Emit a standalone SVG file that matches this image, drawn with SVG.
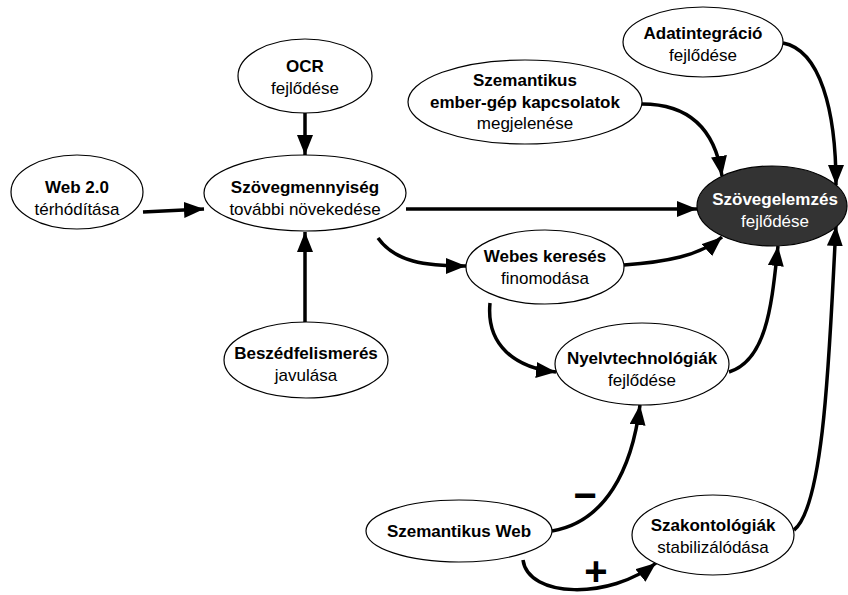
<svg xmlns="http://www.w3.org/2000/svg" width="848" height="595" viewBox="0 0 848 595">
<defs>
<marker id="ah" markerUnits="userSpaceOnUse" markerWidth="22" markerHeight="18" refX="20" refY="8" orient="auto">
<path d="M0,0 L20,8 L0,16 Z" fill="#000"/>
</marker>
<style>
.n{fill:#fff;stroke:#000;stroke-width:1.2}
.d{fill:#333;stroke:#000;stroke-width:1.2}
.e{fill:none;stroke:#000;stroke-width:3.5;marker-end:url(#ah)}
text{font-family:"Liberation Sans",Arial,sans-serif;font-size:17px;text-anchor:middle;fill:#000}
.b{font-weight:bold}
.w{fill:#fff}
.s{font-family:"Liberation Sans",Arial,sans-serif;font-weight:bold;font-size:40px}
</style>
</defs>
<rect width="848" height="595" fill="#fff"/>
<g id="connectors">
<path class="e" d="M305,113 L305,155"/>
<path class="e" d="M305,322 L305,232"/>
<path class="e" d="M143,212 C165,211 182,210 204,209"/>
<path class="e" d="M406,209 L697,209"/>
<path class="e" d="M378,238 C395,262 425,266 466,266"/>
<path class="e" d="M624,265 C665,262 700,256 722,237"/>
<path class="e" d="M490,303 C486,345 515,368 556,372"/>
<path class="e" d="M729,372 C768,360 772,300 778,246"/>
<path class="e" d="M642,104 C690,104 715,130 722,176"/>
<path class="e" d="M783,43 C820,50 836,110 836,185"/>
<path class="e" d="M794,530 C826,505 830,330 836,226"/>
<path class="e" d="M552,531 C605,522 632,470 640,405"/>
<path class="e" d="M523,560 C528,598 610,600 656,563"/>
</g>
<g id="n-ocr"><ellipse class="n" cx="305" cy="76" rx="67" ry="37"/><text class="b" x="305" y="72">OCR</text><text x="305" y="94">fejlődése</text></g>
<g id="n-web20"><ellipse class="n" cx="77" cy="192" rx="66" ry="37"/><text class="b" x="77" y="193">Web 2.0</text><text x="77" y="215">térhódítása</text></g>
<g id="n-szovegmenny"><ellipse class="n" cx="305" cy="193" rx="101" ry="38"/><text class="b" x="305" y="193">Szövegmennyiség</text><text x="305" y="215">további növekedése</text></g>
<g id="n-beszed"><ellipse class="n" cx="306" cy="360" rx="82" ry="38"/><text class="b" x="306" y="359">Beszédfelismerés</text><text x="306" y="381">javulása</text></g>
<g id="n-emberg"><ellipse class="n" cx="525" cy="102" rx="117" ry="42"/><text class="b" x="525" y="86">Szemantikus</text><text class="b" x="525" y="108">ember-gép kapcsolatok</text><text x="525" y="129">megjelenése</text></g>
<g id="n-adat"><ellipse class="n" cx="703" cy="42" rx="80" ry="35"/><text class="b" x="703" y="39">Adatintegráció</text><text x="703" y="61">fejlődése</text></g>
<g id="n-szovegelemzes"><ellipse class="d" cx="772" cy="206" rx="75" ry="40"/><text class="b w" x="775" y="205">Szövegelemzés</text><text class="w" x="775" y="227">fejlődése</text></g>
<g id="n-webes"><ellipse class="n" cx="545" cy="267" rx="79" ry="37"/><text class="b" x="545" y="262">Webes keresés</text><text x="545" y="284">finomodása</text></g>
<g id="n-nyelv"><ellipse class="n" cx="642" cy="364" rx="87" ry="41"/><text class="b" x="642" y="364">Nyelvtechnológiák</text><text x="642" y="386">fejlődése</text></g>
<g id="n-szemweb"><ellipse class="n" cx="459" cy="531" rx="93" ry="31"/><text class="b" x="459" y="537">Szemantikus Web</text></g>
<g id="n-szakont"><ellipse class="n" cx="713" cy="535" rx="81" ry="40"/><text class="b" x="713" y="531">Szakontológiák</text><text x="713" y="553">stabilizálódása</text></g>
<text class="s" x="585" y="509">−</text>
<text class="s" x="596" y="585">+</text>
</svg>
